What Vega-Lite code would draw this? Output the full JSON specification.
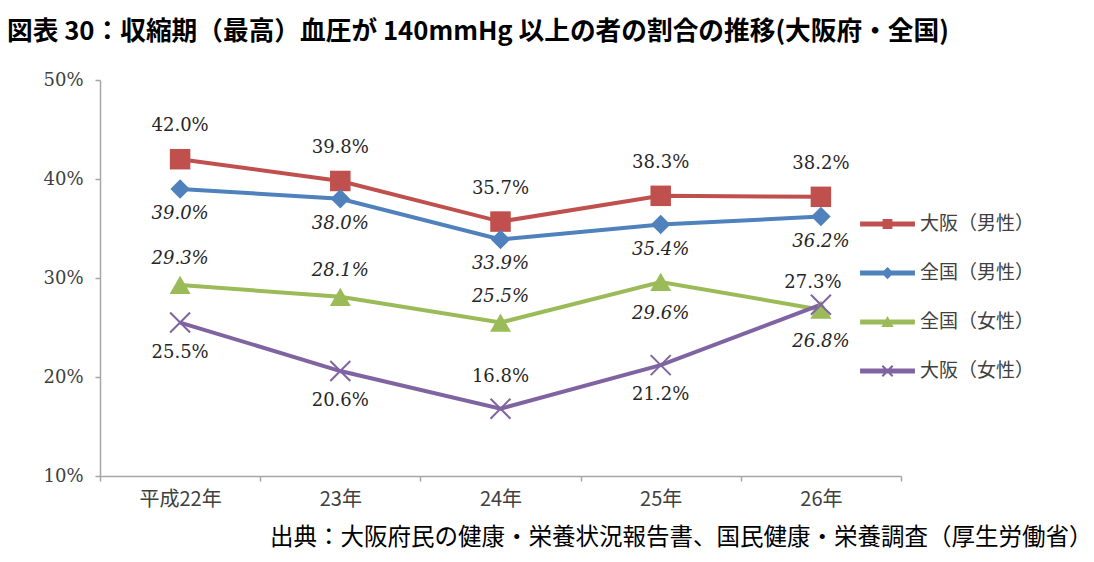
{
  "$schema": "https://vega.github.io/schema/vega-lite/v6.json",
  "width": 801,
  "height": 396,
  "autosize": {"type": "none"},
  "padding": {"left": 100, "top": 80, "right": 193, "bottom": 86},
  "background": "white",
  "title": {
    "text": "図表 30：収縮期（最高）血圧が 140mmHg 以上の者の割合の推移(大阪府・全国)",
    "anchor": "start",
    "frame": "group",
    "dx": -93,
    "offset": 25,
    "font": "Noto Sans CJK JP",
    "fontSize": 25.7,
    "fontWeight": "bold",
    "color": "#000000"
  },
  "data": {
    "values": [
      {"series": "大阪（男性）", "year": "平成22年", "rate": 0.420},
      {"series": "大阪（男性）", "year": "23年", "rate": 0.398},
      {"series": "大阪（男性）", "year": "24年", "rate": 0.357},
      {"series": "大阪（男性）", "year": "25年", "rate": 0.383},
      {"series": "大阪（男性）", "year": "26年", "rate": 0.382},
      {"series": "全国（男性）", "year": "平成22年", "rate": 0.390},
      {"series": "全国（男性）", "year": "23年", "rate": 0.380},
      {"series": "全国（男性）", "year": "24年", "rate": 0.339},
      {"series": "全国（男性）", "year": "25年", "rate": 0.354},
      {"series": "全国（男性）", "year": "26年", "rate": 0.362},
      {"series": "全国（女性）", "year": "平成22年", "rate": 0.293},
      {"series": "全国（女性）", "year": "23年", "rate": 0.281},
      {"series": "全国（女性）", "year": "24年", "rate": 0.255},
      {"series": "全国（女性）", "year": "25年", "rate": 0.296},
      {"series": "全国（女性）", "year": "26年", "rate": 0.268},
      {"series": "大阪（女性）", "year": "平成22年", "rate": 0.255},
      {"series": "大阪（女性）", "year": "23年", "rate": 0.206},
      {"series": "大阪（女性）", "year": "24年", "rate": 0.168},
      {"series": "大阪（女性）", "year": "25年", "rate": 0.212},
      {"series": "大阪（女性）", "year": "26年", "rate": 0.273}
    ]
  },
  "encoding": {
    "x": {
      "field": "year",
      "type": "ordinal",
      "scale": {"type": "band", "domain": ["平成22年", "23年", "24年", "25年", "26年"], "paddingInner": 0, "paddingOuter": 0},
      "axis": {
        "title": "出典：大阪府民の健康・栄養状況報告書、国民健康・栄養調査（厚生労働省）",
        "titleX": 992,
        "titleY": 61,
        "titleAlign": "right",
        "titleBaseline": "middle",
        "titleFont": "Noto Sans CJK JP",
        "titleFontSize": 23.5,
        "titleFontWeight": "normal",
        "titleColor": "#000000",
        "labelAngle": 0,
        "labelFont": "Noto Sans CJK JP",
        "labelFontSize": 20,
        "labelColor": "#404040",
        "labelPadding": 8,
        "tickBand": "extent",
        "tickSize": 5,
        "tickColor": "#A6A6A6",
        "domainColor": "#A6A6A6",
        "domainWidth": 1.5,
        "tickWidth": 1.5,
        "grid": false
      }
    },
    "y": {
      "field": "rate",
      "type": "quantitative",
      "scale": {"domain": [0.1, 0.5], "nice": false, "zero": false},
      "axis": {
        "title": null,
        "values": [0.1, 0.2, 0.3, 0.4, 0.5],
        "format": ".0%",
        "labelFont": "DejaVu Serif",
        "labelFontSize": 18,
        "labelColor": "#404040",
        "labelPadding": 12,
        "tickSize": 5,
        "tickColor": "#A6A6A6",
        "domainColor": "#A6A6A6",
        "domainWidth": 1.5,
        "tickWidth": 1.5,
        "grid": false
      }
    },
    "color": {
      "field": "series",
      "type": "nominal",
      "scale": {
        "domain": ["大阪（男性）", "全国（男性）", "全国（女性）", "大阪（女性）"],
        "range": ["#C0504D", "#4F81BD", "#9BBB59", "#8064A2"]
      },
      "legend": {
        "title": null,
        "orient": "none",
        "legendX": 763,
        "legendY": 119.5,
        "padding": 0,
        "rowPadding": 14,
        "symbolSize": 2401,
        "symbolType": "M-1.12,-0.1H1.12V0.1H-1.12Z",
        "labelOffset": 8,
        "labelFont": "Noto Sans CJK JP",
        "labelFontSize": 19,
        "labelColor": "#404040",
        "encode": {
          "symbols": {
            "update": {
              "shape": {"signal": "datum.value === '大阪（男性）' ? 'M-1.12,-0.1H1.12V0.1H-1.12ZM-0.2,-0.2H0.2V0.2H-0.2Z' : datum.value === '全国（男性）' ? 'M-1.12,-0.1H1.12V0.1H-1.12ZM0,-0.25L0.25,0L0,0.25L-0.25,0Z' : datum.value === '全国（女性）' ? 'M-1.12,-0.1H1.12V0.1H-1.12ZM0,-0.25L0.25,0.2L-0.25,0.2Z' : 'M-1.12,-0.1H1.12V0.1H-1.12ZM-0.24,-0.18L-0.18,-0.24L0.24,0.18L0.18,0.24ZM0.18,-0.24L0.24,-0.18L-0.18,0.24L-0.24,0.18Z'"},
              "fill": {"scale": "color", "field": "value"},
              "strokeWidth": {"value": 0},
              "opacity": {"value": 1},
              "fillOpacity": {"value": 1}
            }
          }
        }
      }
    }
  },
  "layer": [
    {"mark": {"type": "line", "strokeWidth": 4}},
    {
      "transform": [{"filter": "datum.series === '大阪（男性）'"}],
      "mark": {"type": "point", "shape": "square", "size": 420, "filled": true, "opacity": 1}
    },
    {
      "transform": [{"filter": "datum.series === '全国（男性）'"}],
      "mark": {"type": "point", "shape": "diamond", "size": 380, "filled": true, "opacity": 1}
    },
    {
      "transform": [{"filter": "datum.series === '全国（女性）'"}],
      "mark": {"type": "point", "shape": "triangle-up", "size": 441, "filled": true, "opacity": 1}
    },
    {
      "transform": [{"filter": "datum.series === '大阪（女性）'"}],
      "mark": {"type": "point", "shape": "M-1,-1L1,1M1,-1L-1,1", "size": 400, "filled": false, "strokeWidth": 2, "opacity": 1}
    },
    {
      "transform": [{"filter": "datum.series === '大阪（男性）'"}],
      "mark": {"type": "text", "dy": -33, "font": "DejaVu Serif", "fontSize": 18, "baseline": "middle"},
      "encoding": {"text": {"field": "rate", "format": ".1%"}, "color": {"value": "#262626"}}
    },
    {
      "transform": [{"filter": "datum.series === '全国（男性）'"}],
      "mark": {"type": "text", "dy": 25, "font": "DejaVu Serif", "fontSize": 18, "fontStyle": "italic", "baseline": "middle"},
      "encoding": {"text": {"field": "rate", "format": ".1%"}, "color": {"value": "#262626"}}
    },
    {
      "transform": [{"filter": "datum.series === '全国（女性）' && datum.year !== '25年' && datum.year !== '26年'"}],
      "mark": {"type": "text", "dy": -26, "font": "DejaVu Serif", "fontSize": 18, "fontStyle": "italic", "baseline": "middle"},
      "encoding": {"text": {"field": "rate", "format": ".1%"}, "color": {"value": "#262626"}}
    },
    {
      "transform": [{"filter": "datum.series === '全国（女性）' && (datum.year === '25年' || datum.year === '26年')"}],
      "mark": {"type": "text", "dy": 32, "font": "DejaVu Serif", "fontSize": 18, "fontStyle": "italic", "baseline": "middle"},
      "encoding": {"text": {"field": "rate", "format": ".1%"}, "color": {"value": "#262626"}}
    },
    {
      "transform": [{"filter": "datum.series === '大阪（女性）' && datum.year !== '24年' && datum.year !== '26年'"}],
      "mark": {"type": "text", "dy": 30, "font": "DejaVu Serif", "fontSize": 18, "baseline": "middle"},
      "encoding": {"text": {"field": "rate", "format": ".1%"}, "color": {"value": "#262626"}}
    },
    {
      "transform": [{"filter": "datum.series === '大阪（女性）' && datum.year === '24年'"}],
      "mark": {"type": "text", "dy": -32, "font": "DejaVu Serif", "fontSize": 18, "baseline": "middle"},
      "encoding": {"text": {"field": "rate", "format": ".1%"}, "color": {"value": "#262626"}}
    },
    {
      "transform": [{"filter": "datum.series === '大阪（女性）' && datum.year === '26年'"}],
      "mark": {"type": "text", "dy": -22, "dx": -8, "font": "DejaVu Serif", "fontSize": 18, "baseline": "middle"},
      "encoding": {"text": {"field": "rate", "format": ".1%"}, "color": {"value": "#262626"}}
    }
  ],
  "config": {"view": {"stroke": null}}
}
